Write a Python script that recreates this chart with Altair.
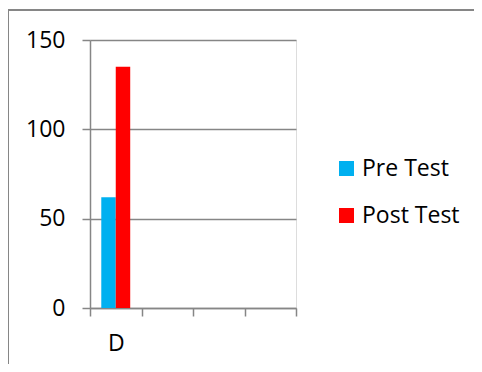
import altair as alt
import pandas as pd

categories = ["D"]
series = ["Pre Test", "Post Test"]
pre_values = [62]
post_values = [135]
x_domain = ["D", "_2", "_3", "_4"]
colors = ["#00B0F0", "#FF0000"]

rows = []
for i, c in enumerate(categories):
    rows.append({"cat": c, "series": "Pre Test", "value": pre_values[i]})
    rows.append({"cat": c, "series": "Post Test", "value": post_values[i]})
df = pd.DataFrame(rows)

GRAY = "#868686"
FONT = "Open Sans"
FS = 23

bars = alt.Chart(df).mark_bar().encode(
    x=alt.X("cat:N", title=None,
            scale=alt.Scale(domain=x_domain, paddingInner=0, paddingOuter=0),
            axis=alt.Axis(labelExpr="datum.value == 'D' ? 'D' : ''", labelAngle=0,
                          tickBand="extent", domainColor=GRAY, domainWidth=1.5,
                          tickColor=GRAY, tickWidth=1.5, tickSize=8,
                          labelPadding=16, labelFontSize=FS, labelFont=FONT,
                          labelColor="#000000", grid=False)),
    xOffset=alt.XOffset("series:N", sort=series,
                        scale=alt.Scale(domain=series, paddingInner=0, paddingOuter=0.78)),
    y=alt.Y("value:Q", title=None,
            scale=alt.Scale(domain=[0, 150]),
            axis=alt.Axis(values=[0, 50, 100, 150], grid=True, gridColor=GRAY, gridWidth=1.5,
                          domainColor=GRAY, domainWidth=1.5, tickColor=GRAY, tickWidth=1.5,
                          tickSize=8, labelPadding=17, labelFontSize=FS, labelFont=FONT,
                          labelColor="#000000")),
    color=alt.Color("series:N", sort=series,
                    scale=alt.Scale(domain=series, range=colors),
                    legend=alt.Legend(title=None, orient="none", legendX=245, legendY=117,
                                      symbolType="square", symbolSize=225,
                                      symbolStrokeWidth=0, labelFontSize=FS, labelFont=FONT,
                                      labelColor="#000000", labelOffset=4, rowPadding=23,
                                      padding=0)),
)

frame_top = alt.Chart(pd.DataFrame({"a": [0]})).mark_rule(color=GRAY, strokeWidth=2).encode(
    x=alt.value(-82), x2=alt.value(400), y=alt.value(-30)
)
frame_left = alt.Chart(pd.DataFrame({"a": [0]})).mark_rule(color=GRAY, strokeWidth=2).encode(
    x=alt.value(-82), y=alt.value(-30), y2=alt.value(340)
)

chart = alt.layer(bars, frame_top, frame_left).properties(
    width=206, height=268,
    autosize=alt.AutoSizeParams(type="none"),
    padding={"left": 82, "top": 32, "right": 178, "bottom": 56},
).configure_view(stroke=None).configure(background="white")

chart.save("out.html", embed_options={"renderer": "svg", "actions": False})
